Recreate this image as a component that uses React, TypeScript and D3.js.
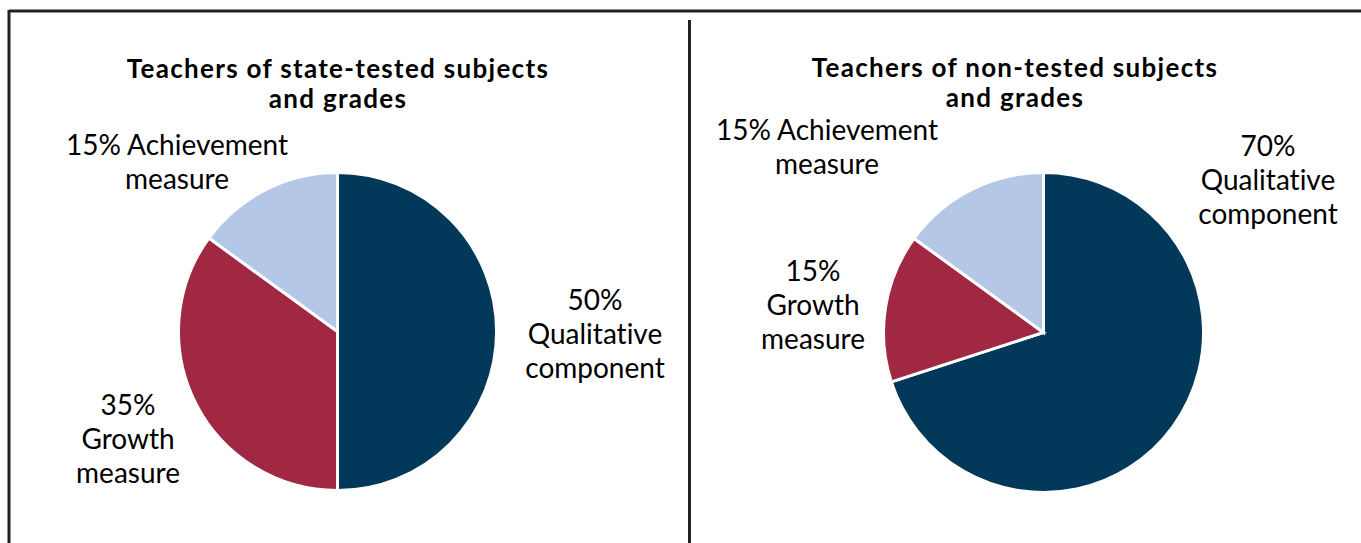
import React from "react";
import * as d3 from "d3";

const categories = ["Qualitative component", "Growth measure", "Achievement measure"];
const stateTestedValues = [50, 35, 15];
const nonTestedValues = [70, 15, 15];
const colors = ["#02395B", "#A12843", "#B4C7E7"];
const titles = [
  ["Teachers of state-tested subjects", "and grades"],
  ["Teachers of non-tested subjects", "and grades"],
];
const leftLabels = [
  { lines: ["50%", "Qualitative", "component"], x: 595, y: 310 },
  { lines: ["35%", "Growth", "measure"], x: 128, y: 415 },
  { lines: ["15% Achievement", "measure"], x: 177, y: 155 },
];
const rightLabels = [
  { lines: ["70%", "Qualitative", "component"], x: 1268, y: 156 },
  { lines: ["15%", "Growth", "measure"], x: 813, y: 281 },
  { lines: ["15% Achievement", "measure"], x: 827, y: 140 },
];

const FONT = "'Lato', 'Open Sans', sans-serif";
const noLig = { fontVariantLigatures: "none" as const, fontFeatureSettings: "'liga' 0, 'clig' 0" };

function Pie({ values, cx, cy, r, title, titleX, titleY, labels }: any) {
  const pie = d3.pie<number>().sort(null).value((d) => d);
  const arc = d3.arc<d3.PieArcDatum<number>>().innerRadius(0).outerRadius(r);
  const arcs = pie(values);
  return (
    <g>
      <text x={titleX} y={titleY} textAnchor="middle" fontFamily={FONT} fontWeight="bold" fontSize={26} letterSpacing={1.3} fill="#000" style={noLig}>
        {title.map((t: string, i: number) => (
          <tspan key={i} x={titleX} dy={i === 0 ? 0 : 30}>{t}</tspan>
        ))}
      </text>
      <g transform={`translate(${cx},${cy})`}>
        {arcs.map((a, i) => (
          <path key={categories[i]} d={arc(a) || ""} fill={colors[i]} stroke="#fff" strokeWidth={3} strokeLinejoin="miter" />
        ))}
      </g>
      {labels.map((l: any, i: number) => (
        <text key={i} x={l.x} y={l.y} textAnchor="middle" fontFamily={FONT} fontSize={28} fill="#000" style={noLig}>
          {l.lines.map((t: string, j: number) => (
            <tspan key={j} x={l.x} dy={j === 0 ? 0 : 34}>{t}</tspan>
          ))}
        </text>
      ))}
    </g>
  );
}

export default function App() {
  const W = 1361, H = 543;
  return (
    <svg width={W} height={H} style={{ position: "absolute", left: 0, top: 0 }}>
      <rect width={W} height={H} fill="#fff" />
      <line x1={9} y1={11} x2={W} y2={11} stroke="#222" strokeWidth={3} />
      <line x1={9} y1={10} x2={9} y2={H} stroke="#222" strokeWidth={3} />
      <line x1={689.5} y1={20} x2={689.5} y2={H} stroke="#222" strokeWidth={3} />
      <Pie values={stateTestedValues} cx={337.5} cy={331.5} r={159} title={titles[0]} titleX={338} titleY={78} labels={leftLabels} />
      <Pie values={nonTestedValues} cx={1043.5} cy={332.5} r={160} title={titles[1]} titleX={1015} titleY={77} labels={rightLabels} />
    </svg>
  );
}
